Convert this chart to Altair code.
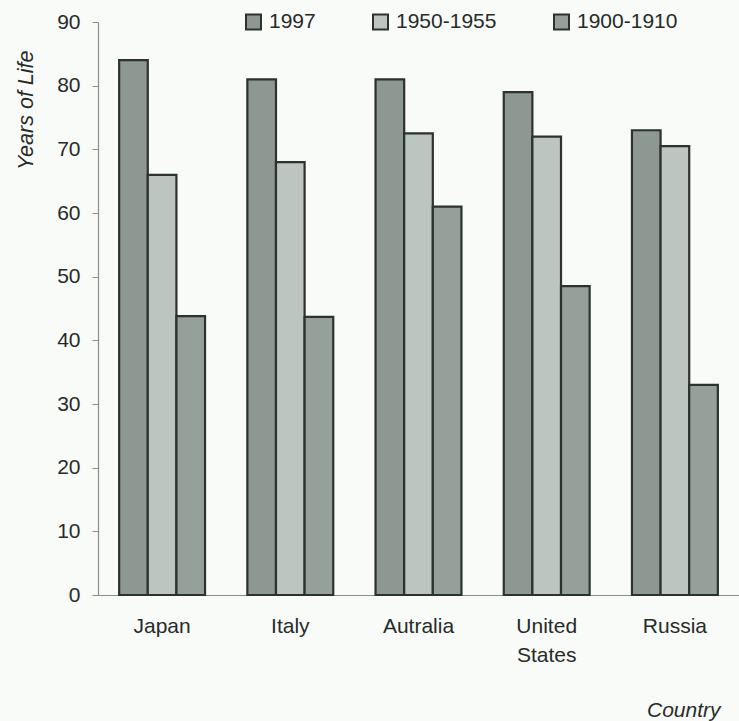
import altair as alt
import pandas as pd

# Life expectancy by country and period
countries = ["Japan", "Italy", "Autralia", "United States", "Russia"]
periods = ["1997", "1950-1955", "1900-1910"]
life_1997 = [84, 81, 81, 79, 73]
life_1950 = [66, 68, 72.5, 72, 70.5]
life_1900 = [43.8, 43.7, 61, 48.5, 33]

rows = []
for i, c in enumerate(countries):
    for p, vals in zip(periods, [life_1997, life_1950, life_1900]):
        rows.append({"Country": c, "Period": p, "Years": vals[i]})
df = pd.DataFrame(rows)

font = "Liberation Sans"
ink = "#262b28"
axis_grey = "#8a8f8b"
fills = ["#8d9892", "#bcc5bf", "#95a09a"]

chart = (
    alt.Chart(df)
    .mark_bar(stroke="#2a332e", strokeWidth=2.2)
    .encode(
        x=alt.X(
            "Country:N",
            sort=countries,
            scale=alt.Scale(paddingInner=0.33, paddingOuter=0.165),
            axis=alt.Axis(
                title="Country",
                titleFont=font,
                titleFontSize=21,
                titleFontStyle="italic",
                titleFontWeight="normal",
                titleColor=ink,
                titleX=622,
                titleY=115,
                titleAlign="right",
                titleBaseline="middle",
                labelFont=font,
                labelFontSize=21,
                labelColor=ink,
                labelAngle=0,
                labelPadding=20,
                labelLineHeight=29,
                labelExpr="split(datum.label, ' ')",
                ticks=False,
                domainColor=axis_grey,
                domainWidth=1.2,
            ),
        ),
        xOffset=alt.XOffset("Period:N", sort=periods),
        y=alt.Y(
            "Years:Q",
            scale=alt.Scale(domain=[0, 90], nice=False),
            axis=alt.Axis(
                title="Years of Life",
                values=list(range(0, 91, 10)),
                grid=False,
                titleFont=font,
                titleFontSize=21.5,
                titleFontStyle="italic",
                titleFontWeight="normal",
                titleColor=ink,
                titleAngle=270,
                titleX=-72,
                titleY=28,
                titleAlign="right",
                titleBaseline="middle",
                labelFont=font,
                labelFontSize=21,
                labelColor=ink,
                labelPadding=12,
                tickSize=6,
                tickColor=axis_grey,
                domainColor=axis_grey,
                domainWidth=1.2,
            ),
        ),
        color=alt.Color(
            "Period:N",
            sort=periods,
            scale=alt.Scale(domain=periods, range=fills),
            legend=alt.Legend(
                title=None,
                orient="none",
                direction="horizontal",
                legendX=145,
                legendY=-10.5,
                padding=0,
                symbolType="square",
                symbolSize=225,
                symbolStrokeColor="#2a332e",
                symbolStrokeWidth=2,
                symbolOpacity=1,
                labelFont=font,
                labelFontSize=21,
                labelColor=ink,
                labelOffset=5,
                columnPadding=53,
            ),
        ),
    )
    .properties(
        width=641,
        height=573,
        background="#f9fbf9",
        padding={"left": 98, "top": 22, "right": 0, "bottom": 126},
        autosize=alt.AutoSizeParams(type="none"),
    )
    .configure_view(stroke=None)
)

chart.save("out.html", embed_options={"renderer": "svg", "actions": False})
